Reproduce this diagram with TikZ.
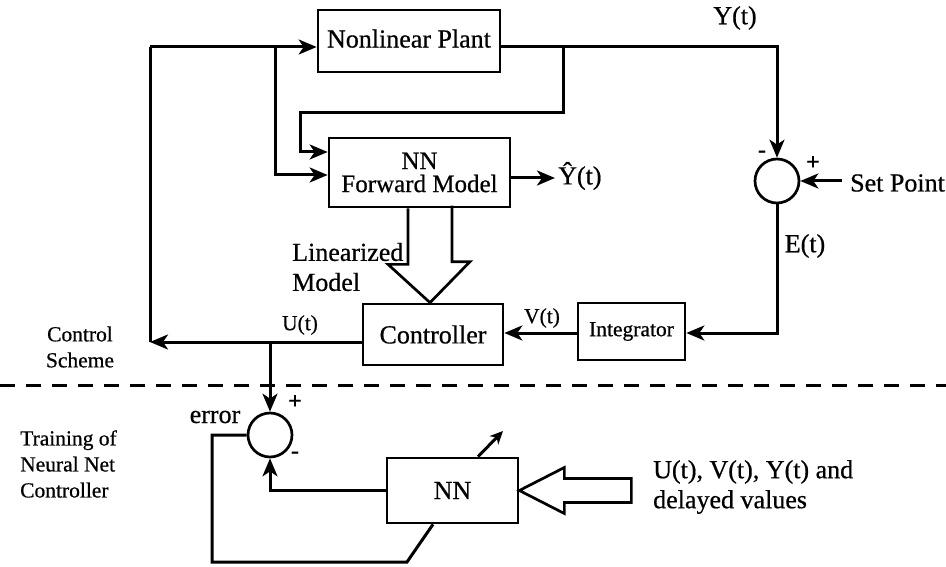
\documentclass[tikz,border=0pt]{standalone}
\usepackage{fontspec}
\setmainfont{Liberation Serif}[FakeBold=0.6]
\usetikzlibrary{arrows.meta,calc}

\begin{document}
\begin{tikzpicture}[x=1pt,y=-1pt,
  wire/.style={line width=3pt},
  flow/.style={wire,-{Stealth[length=18pt,width=15pt,inset=5pt]}},
  smallflow/.style={wire,-{Stealth[length=13pt,width=12pt,inset=4pt]}},
  block/.style={draw,line width=2.7pt,inner sep=0pt},
  sumjn/.style={draw,circle,line width=2.7pt,minimum size=44pt,inner sep=0pt},
  hollow/.style={draw,line width=2.7pt,line join=miter},
  lbl/.style={inner sep=0pt,font=\fontsize{21.5}{26}\selectfont},
  big/.style={inner sep=0pt,font=\fontsize{26}{30}\selectfont},
  sign/.style={inner sep=0pt,font=\fontsize{24}{24}\selectfont\bfseries}
]
\useasboundingbox (0,0) rectangle (946,567);

% ---------- blocks ----------
\node[block,minimum width=182pt,minimum height=62pt,big] (plant) at (409,41) {\raisebox{5pt}{Nonlinear Plant}};
\node[block,minimum width=181pt,minimum height=69pt,align=center,
      font=\fontsize{25}{23}\selectfont] (fwd) at (419.5,172.5) {NN\\Forward Model};
\node[block,minimum width=140pt,minimum height=61pt,big] (ctrl) at (433,334.5) {Controller};
\node[block,minimum width=107pt,minimum height=57pt,lbl] (integ) at (631.5,331.5) {Integrator};
\node[block,minimum width=131pt,minimum height=65pt,big] (nn) at (452.5,490.5) {NN};
\node[sumjn] (s1) at (777,181) {};
\node[sumjn] (s2) at (270,435) {};

% ---------- routing points ----------
\coordinate (cL)  at (150,342);
\coordinate (cTL) at (150,47);
\coordinate (br1) at (275,47);
\coordinate (br1d) at (275,175);
\coordinate (pOut) at (563,47);
\coordinate (yc)  at (777,47);
\coordinate (fb1) at (563,113);
\coordinate (fb2) at (300,113);
\coordinate (fb3) at (300,152);
\coordinate (yhat) at (555,178);
\coordinate (sp)  at (842,181);
\coordinate (ec)  at (777,333);
\coordinate (ub)  at (270,342);
\coordinate (e1)  at (212,435);
\coordinate (e2)  at (212,562);
\coordinate (e3)  at (407,562);
\coordinate (e4)  at (433,523);
\coordinate (w1)  at (478,458);
\coordinate (w2)  at (503,431);
\coordinate (lm)  at (430,0);
\coordinate (dl)  at (0,385);
\coordinate (dr)  at (946,385);

% ---------- control scheme ----------
\draw[flow] (ctrl.west |- cL) -- (cL);
\draw[wire] (cL) -- (cTL);
\draw[flow] (cTL) -- (plant.west |- cTL);
\draw[flow] (br1) -- (br1d) -- (fwd.west |- br1d);
\draw[flow] (plant.east |- cTL) -- (yc) -- (s1.north);
\draw[flow] (pOut) -- (fb1) -- (fb2) -- (fb3) -- (fwd.west |- fb3);
\draw[flow] (fwd.east |- yhat) -- (yhat);
\draw[flow] (sp) -- (s1.east);
\draw[flow] (s1.south) -- (ec) -- (integ.east |- ec);
\draw[flow] (integ.west |- ec) -- (ctrl.east |- ec);

% linearized model (hollow arrow)
\draw[hollow] (fwd.south -| lm) ++(-22,0) -- ++(0,56) -- ++(-20,0)
  -- (ctrl.north -| lm) -- ++(40,-41) -- ++(-18,0) -- ++(0,-56);

% separator
\draw[wire,dash pattern=on 15pt off 11pt] (dl) -- (dr);

% ---------- training of the controller ----------
\draw[flow] (ub) -- (s2.north);
\draw[flow] (nn.west) -- (s2.south |- nn.west) -- (s2.south);
\draw[wire,line join=miter] (s2.west) -- (e1) -- (e2) -- (e3) -- (e4 |- nn.south);
\draw[smallflow] (w1 |- nn.north) -- (w2);
\draw[hollow] (nn.east) -- ++(45,-23) -- ++(0,11) -- ++(67,0) -- ++(0,24)
  -- ++(-67,0) -- ++(0,11) -- cycle;

% ---------- labels ----------
\node[big] (ylab) at (735,18) {Y(t)};
\node[big,anchor=west] (yhl) at (558,176) {\^{Y}(t)};
\node[sign] (m1) at (762,154) {-};
\node[sign] (p1) at (813,163) {+};
\node[big,anchor=west] (spl) at (850,183) {Set Point};
\node[big] (elab) at (805,246) {E(t)};
\node[lbl] (vlab) at (542,318) {V(t)};
\node[lbl] (ulab) at (300,325) {U(t)};
\node[big,anchor=west,align=left] (lin) at (292,267) {Linearized\\Model};
\node[lbl,align=center] (cs) at (80,347) {Control\\Scheme};
\node[big] (err) at (215,417) {error};
\node[sign] (p2) at (295,402) {+};
\node[sign] (m2) at (295,455) {-};
\node[lbl,align=left,anchor=west] (tr) at (20,464) {Training of\\Neural Net\\Controller};
\node[big,anchor=west,align=left] (inp) at (653,487) {U(t), V(t), Y(t) and\\delayed values};
\end{tikzpicture}
\end{document}
